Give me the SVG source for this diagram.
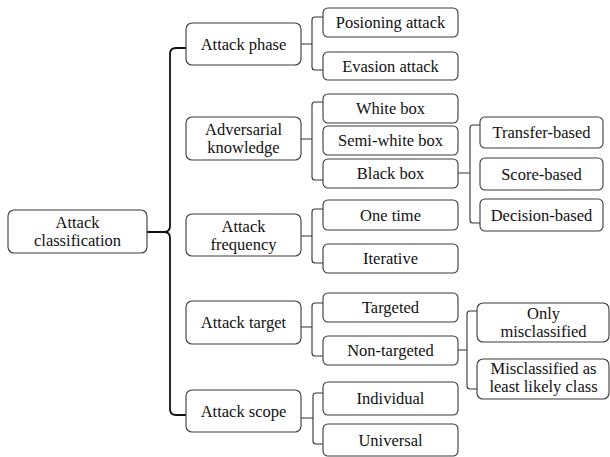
<svg xmlns="http://www.w3.org/2000/svg" width="610" height="457" viewBox="0 0 610 457">
  <style>
    .box { fill: #ffffff; stroke: #3a3a3a; stroke-width: 1.1; }
    .lbl { font-family: 'Liberation Serif', 'DejaVu Serif', 'Times New Roman', serif; font-size: 16.5px; fill: #111111; text-anchor: middle; }
    .main { fill: none; stroke: #111111; stroke-width: 1.8; }
    .brace { fill: none; stroke: #333333; stroke-width: 1.1; }
  </style>
  <rect width="610" height="457" fill="#ffffff"/>

  <!-- connectors -->
  <g id="connectors">
    <!-- root brace -->
    <path class="main" d="M147,232 H164 Q170,232 170,226 V54 Q170,48 176,48 H186"/>
    <path class="main" d="M164,232 Q170,232 170,238 V409 Q170,415 176,415 H186"/>
    <!-- attack phase -->
    <path class="brace" d="M301,44 H312 M323,17 H315 Q312,17 312,20 V67 Q312,70 315,70 H323"/>
    <!-- adversarial knowledge -->
    <path class="brace" d="M301,139 H312 M323,102 H315 Q312,102 312,105 V177 Q312,180 315,180 H323"/>
    <!-- attack frequency -->
    <path class="brace" d="M301,236 H312 M323,209 H315 Q312,209 312,212 V260 Q312,263 315,263 H323"/>
    <!-- attack target -->
    <path class="brace" d="M301,327 H312 M323,303 H315 Q312,303 312,306 V353 Q312,356 315,356 H323"/>
    <!-- attack scope -->
    <path class="brace" d="M301,418 H313 M323,393 H316 Q313,393 313,396 V441 Q313,444 316,444 H323"/>
    <!-- black box -->
    <path class="brace" d="M458,173 H470 M480,125 H473 Q470,125 470,128 V220 Q470,223 473,223 H480"/>
    <!-- non-targeted -->
    <path class="brace" d="M458,350 H467 M477,311 H470 Q467,311 467,314 V386 Q467,389 470,389 H477"/>
  </g>

  <!-- root -->
  <g id="attack-classification">
    <rect class="box" x="8" y="210" width="139" height="43" rx="6"/>
    <text class="lbl" x="77.5" y="228" font-family="Liberation Serif, serif">Attack</text>
    <text class="lbl" x="77.5" y="246">classification</text>
  </g>

  <!-- level 1 -->
  <g id="attack-phase">
    <rect class="box" x="186" y="23" width="115" height="42" rx="6"/>
    <text class="lbl" x="243.5" y="49.5">Attack phase</text>
  </g>
  <g id="adversarial-knowledge">
    <rect class="box" x="186" y="117" width="115" height="43" rx="6"/>
    <text class="lbl" x="243.5" y="135">Adversarial</text>
    <text class="lbl" x="243.5" y="153">knowledge</text>
  </g>
  <g id="attack-frequency">
    <rect class="box" x="186" y="214" width="115" height="42" rx="6"/>
    <text class="lbl" x="243.5" y="231.5">Attack</text>
    <text class="lbl" x="243.5" y="249.5">frequency</text>
  </g>
  <g id="attack-target">
    <rect class="box" x="186" y="301" width="115" height="43" rx="6"/>
    <text class="lbl" x="243.5" y="328">Attack target</text>
  </g>
  <g id="attack-scope">
    <rect class="box" x="186" y="390" width="115" height="42" rx="6"/>
    <text class="lbl" x="243.5" y="416.5">Attack scope</text>
  </g>

  <!-- level 2 -->
  <g id="poisoning-attack">
    <rect class="box" x="323" y="8" width="135" height="29" rx="5"/>
    <text class="lbl" x="390.5" y="28">Posioning attack</text>
  </g>
  <g id="evasion-attack">
    <rect class="box" x="323" y="52" width="135" height="28" rx="5"/>
    <text class="lbl" x="390.5" y="71.5">Evasion attack</text>
  </g>
  <g id="white-box">
    <rect class="box" x="323" y="94" width="135" height="29" rx="5"/>
    <text class="lbl" x="390.5" y="114">White box</text>
  </g>
  <g id="semi-white-box">
    <rect class="box" x="323" y="126" width="135" height="29" rx="5"/>
    <text class="lbl" x="390.5" y="146">Semi-white box</text>
  </g>
  <g id="black-box">
    <rect class="box" x="323" y="159" width="135" height="29" rx="5"/>
    <text class="lbl" x="390.5" y="179">Black box</text>
  </g>
  <g id="one-time">
    <rect class="box" x="323" y="200" width="135" height="30" rx="5"/>
    <text class="lbl" x="390.5" y="220.5">One time</text>
  </g>
  <g id="iterative">
    <rect class="box" x="323" y="244" width="135" height="29" rx="5"/>
    <text class="lbl" x="390.5" y="264">Iterative</text>
  </g>
  <g id="targeted">
    <rect class="box" x="323" y="293" width="135" height="29" rx="5"/>
    <text class="lbl" x="390.5" y="313">Targeted</text>
  </g>
  <g id="non-targeted">
    <rect class="box" x="323" y="336" width="135" height="29" rx="5"/>
    <text class="lbl" x="390.5" y="356">Non-targeted</text>
  </g>
  <g id="individual">
    <rect class="box" x="323" y="382" width="135" height="33" rx="5"/>
    <text class="lbl" x="390.5" y="404">Individual</text>
  </g>
  <g id="universal">
    <rect class="box" x="323" y="424" width="135" height="32" rx="5"/>
    <text class="lbl" x="390.5" y="446">Universal</text>
  </g>

  <!-- level 3 -->
  <g id="transfer-based">
    <rect class="box" x="480" y="117" width="123" height="31" rx="5"/>
    <text class="lbl" x="541.5" y="138">Transfer-based</text>
  </g>
  <g id="score-based">
    <rect class="box" x="480" y="158" width="123" height="32" rx="5"/>
    <text class="lbl" x="541.5" y="179.5">Score-based</text>
  </g>
  <g id="decision-based">
    <rect class="box" x="480" y="199" width="123" height="32" rx="5"/>
    <text class="lbl" x="541.5" y="220.5">Decision-based</text>
  </g>
  <g id="only-misclassified">
    <rect class="box" x="477" y="303" width="132" height="39" rx="6"/>
    <text class="lbl" x="543.5" y="318.5">Only</text>
    <text class="lbl" x="543.5" y="336.5">misclassified</text>
  </g>
  <g id="least-likely-class">
    <rect class="box" x="477" y="359" width="132" height="40" rx="6"/>
    <text class="lbl" x="543.5" y="374">Misclassified as</text>
    <text class="lbl" x="543.5" y="392">least likely class</text>
  </g>
</svg>
